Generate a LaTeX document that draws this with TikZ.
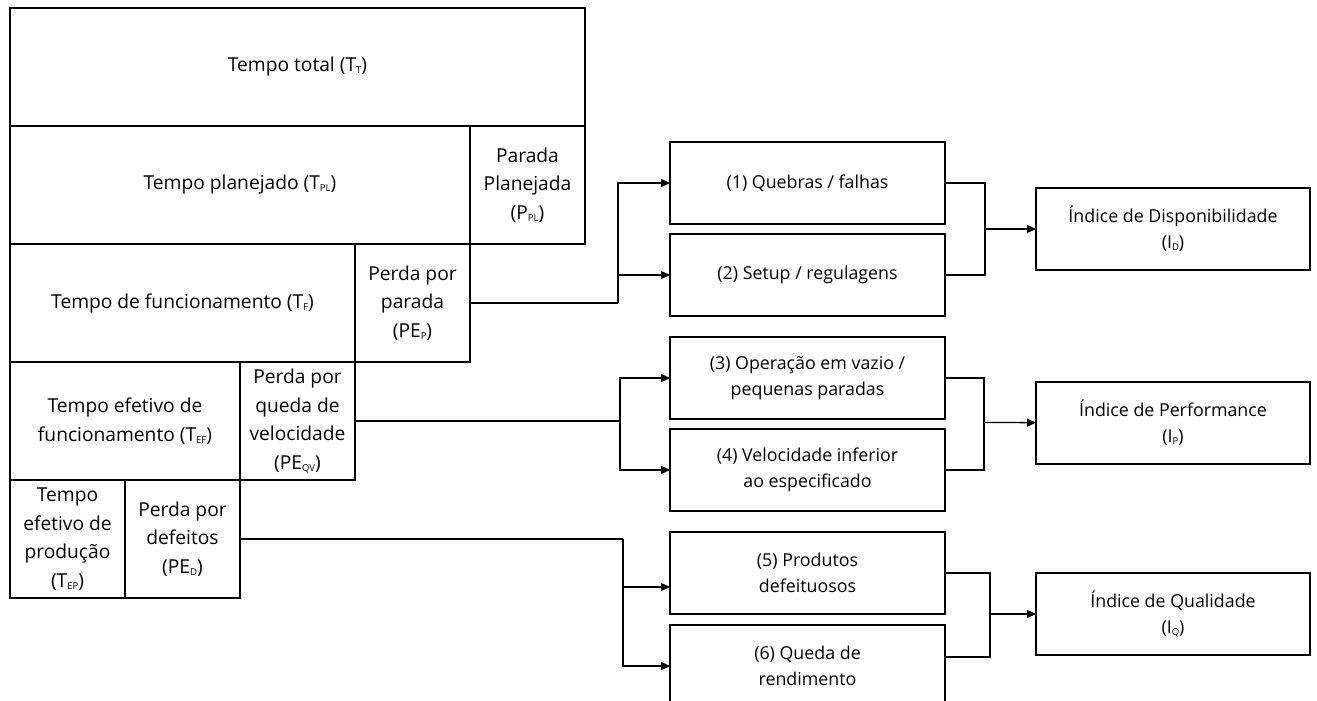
\documentclass[tikz,border=0pt]{standalone}
\usepackage{fontspec}
\setmainfont{Open Sans}
\usetikzlibrary{arrows.meta}
\newcommand\dfont{\fontsize{19.2}{28.5}\selectfont}
\newcommand\bfontx{\fontsize{17.8}{26}\selectfont}
\newcommand\sbx[1]{{\fontsize{9.5}{9.5}\selectfont\raisebox{-2pt}{#1}}}
\begin{document}
\begin{tikzpicture}[x=1pt,y=-1pt,
  line width=1.3pt,
  cell/.style={draw,anchor=north west,inner sep=0pt,outer sep=0pt,align=center,font=\dfont,minimum height=118pt},
  box/.style={draw,anchor=north west,inner sep=0pt,outer sep=0pt,align=center,font=\bfontx,minimum width=275pt,minimum height=82pt},
  idx/.style={draw,anchor=north west,inner sep=0pt,outer sep=0pt,align=center,font=\bfontx,minimum width=274pt,minimum height=82pt},
  arr/.style={-{Triangle[length=9pt,width=8pt]}}]
\useasboundingbox (0,0) rectangle (1317,701);
\clip (0,0) rectangle (1317,701);
% table
\node[cell,minimum width=575pt] (tt) at (10,8) {Tempo total (T\sbx{T})};
\node[cell,minimum width=460pt] (tpl) at (10,126) {Tempo planejado (T\sbx{PL})};
\node[cell,minimum width=115pt] (ppl) at (470,126) {Parada\\Planejada\\(P\sbx{PL})};
\node[cell,minimum width=345pt] (tf) at (10,244) {Tempo de funcionamento (T\sbx{F})};
\node[cell,minimum width=115pt] (pep) at (355,244) {Perda por\\parada\\(PE\sbx{P})};
\node[cell,minimum width=230pt] (tef) at (10,362) {Tempo efetivo de\\funcionamento (T\sbx{EF})};
\node[cell,minimum width=115pt] (peqv) at (240,362) {Perda por\\queda de\\velocidade\\(PE\sbx{QV})};
\node[cell,minimum width=115pt] (tep) at (10,480) {Tempo\\efetivo de\\produção\\(T\sbx{EP})};
\node[cell,minimum width=115pt] (ped) at (125,480) {Perda por\\defeitos\\(PE\sbx{D})};
% loss boxes
\node[box] (b1) at (670,142) {(1) Quebras / falhas};
\node[box] (b2) at (670,234) {(2) Setup / regulagens};
\node[box] (b3) at (670,337) {(3) Operação em vazio /\\pequenas paradas};
\node[box] (b4) at (670,429) {(4) Velocidade inferior\\ao especificado};
\node[box] (b5) at (670,532) {(5) Produtos\\defeituosos};
\node[box] (b6) at (670,625) {(6) Queda de\\rendimento};
% index boxes
\node[idx] (iD) at (1036,188) {Índice de Disponibilidade\\(I\sbx{D})};
\node[idx] (iP) at (1036,382) {Índice de Performance\\(I\sbx{P})};
\node[idx] (iQ) at (1036,573) {Índice de Qualidade\\(I\sbx{Q})};
% junctions
\coordinate (j1) at (618,303);
\coordinate (j2) at (620,421);
\coordinate (j3) at (623,539);
\coordinate (k1) at (985,229);
\coordinate (k2) at (984,422.5);
\coordinate (k3) at (990,614);
% connectors left
\draw (pep.east) -- (j1);
\draw[arr] (j1) |- (b1);
\draw[arr] (j1) |- (b2);
\draw (peqv.east) -- (j2);
\draw[arr] (j2) |- (b3);
\draw[arr] (j2) |- (b4);
\draw (ped.east) -- (j3);
\draw[arr] (j3) |- ([yshift=-14pt]b5.west);
\draw[arr] (j3) |- (b6);
% connectors right
\draw (b1.east) -| (k1);
\draw (b2.east) -| (k1);
\draw[arr] (k1) -- (iD);
\draw (b3.east) -| (k2);
\draw (b4.east) -| (k2);
\draw[arr] (k2) -- (iP);
\draw (b5.east) -| (k3);
\draw ([yshift=9pt]b6.east) -| (k3);
\draw[arr] (k3) -- (iQ);
\end{tikzpicture}
\end{document}
